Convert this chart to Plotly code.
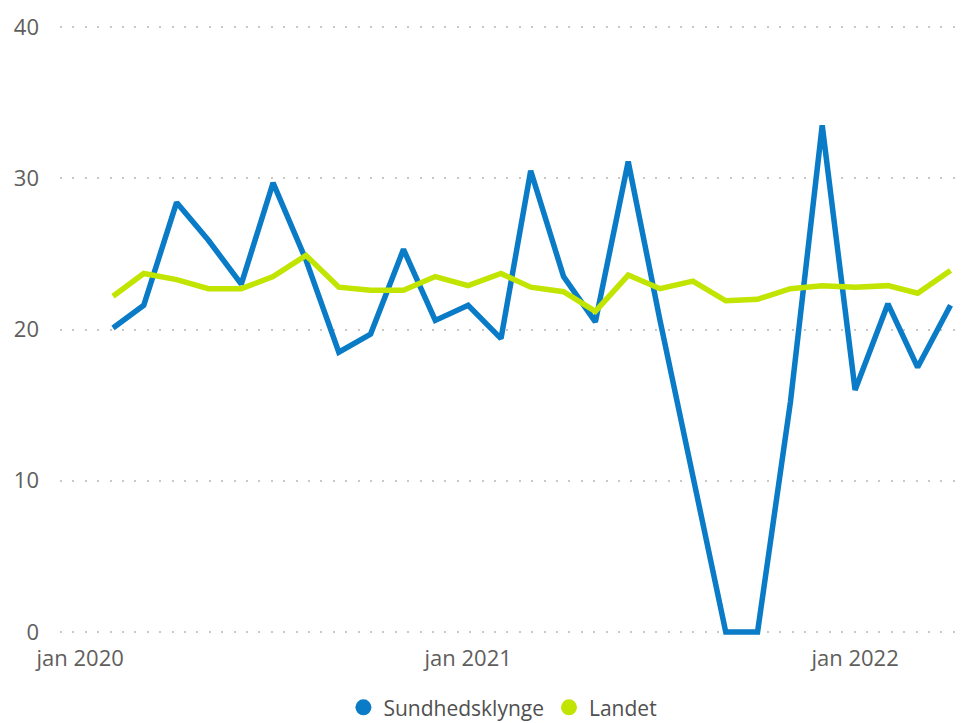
import plotly.graph_objects as go

# ── Data ─────────────────────────────────────────────────────────────────────
months = [
    "2020-02-01", "2020-03-01", "2020-04-01", "2020-05-01", "2020-06-01",
    "2020-07-01", "2020-08-01", "2020-09-01", "2020-10-01", "2020-11-01",
    "2020-12-01", "2021-01-01", "2021-02-01", "2021-03-01", "2021-04-01",
    "2021-05-01", "2021-06-01", "2021-07-01", "2021-08-01", "2021-09-01",
    "2021-10-01", "2021-11-01", "2021-12-01", "2022-01-01", "2022-02-01",
    "2022-03-01", "2022-04-01",
]

sundhedsklynge = [
    20.1, 21.6, 28.4, 25.9, 23.0, 29.7, 24.6, 18.5, 19.7, 25.3,
    20.6, 21.6, 19.4, 30.5, 23.5, 20.5, 31.1, 20.6, 10.3, 0.0,
    0.0, 15.2, 33.5, 16.0, 21.7, 17.5, 21.6,
]

landet = [
    22.2, 23.7, 23.3, 22.7, 22.7, 23.5, 24.9, 22.8, 22.6, 22.6,
    23.5, 22.9, 23.7, 22.8, 22.5, 21.2, 23.6, 22.7, 23.2, 21.9,
    22.0, 22.7, 22.9, 22.8, 22.9, 22.4, 23.9,
]

y_ticks = [0, 10, 20, 30, 40]
x_ticks = ["2020-01-01", "2021-01-01", "2022-01-01"]
x_tick_labels = ["jan 2020", "jan 2021", "jan 2022"]

# ── Style ────────────────────────────────────────────────────────────────────
BLUE = "#0A7BC6"
GREEN = "#C1E400"
MUTED = "#605E5C"
GRID = "#C8C8C8"
FONT = "'Open Sans', 'Noto Sans', sans-serif"

fig = go.Figure()

for name, vals, color in [("Sundhedsklynge", sundhedsklynge, BLUE),
                          ("Landet", landet, GREEN)]:
    fig.add_trace(go.Scatter(
        x=months, y=vals, mode="lines", name=name,
        line=dict(color=color, width=5.5),
        showlegend=False,
    ))

# legend entries as filled circles
for name, color in [("Sundhedsklynge", BLUE), ("Landet", GREEN)]:
    fig.add_trace(go.Scatter(
        x=[None], y=[None], mode="markers", name=name,
        marker=dict(color=color, size=22, symbol="circle"),
    ))

# page body adds an 8px offset, margins compensate for it
fig.update_layout(
    width=969, height=723,
    paper_bgcolor="white", plot_bgcolor="white",
    font=dict(family=FONT, color=MUTED, size=22),
    margin=dict(l=52, r=0, t=16, b=96, autoexpand=False),
    showlegend=True,
    legend=dict(
        orientation="h", x=0.483, xanchor="center",
        y=-0.119, yanchor="middle",
        font=dict(size=21, color="#505050"),
        itemwidth=30, tracegroupgap=0,
        itemsizing="trace",
    ),
)

fig.update_xaxes(
    type="date",
    range=["2019-12-13", "2022-04-26"],
    tickvals=x_ticks, ticktext=x_tick_labels,
    showgrid=False, zeroline=False, showline=False,
    ticks="", ticklabelstandoff=8,
    tickfont=dict(size=22, color=MUTED),
)

fig.update_yaxes(
    range=[-0.2, 40.2], tickvals=y_ticks,
    showgrid=True, gridcolor=GRID, gridwidth=2, griddash="2px,10.4px",
    zeroline=False, showline=False,
    ticks="", ticklabelstandoff=20,
    tickfont=dict(size=22, color=MUTED),
)

fig.write_html("out.html")
